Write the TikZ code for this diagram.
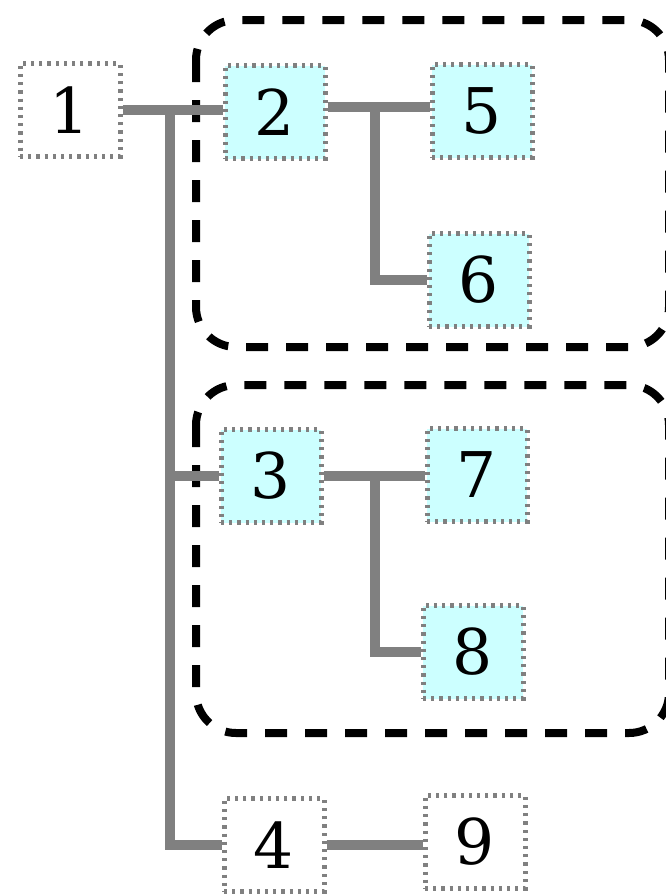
\documentclass[tikz,border=0pt]{standalone}
\usepackage{fontspec}
\setmainfont{DejaVu Serif}
\usepackage{tikz}
\usetikzlibrary{positioning,backgrounds}
\definecolor{cellfill}{RGB}{204,255,255}
\definecolor{linkgray}{RGB}{128,128,128}

\begin{document}
\begin{tikzpicture}[x=1pt, y=-1pt,
  every node/.style={font=\fontsize{63}{63}\selectfont},
  cell/.style={draw=linkgray, line width=5pt, dash pattern=on 3.2pt off 5pt,
               minimum width=100pt, minimum height=93pt, inner sep=0pt},
  inner/.style={cell, fill=cellfill},
  outer/.style={cell, fill=white},
  link/.style={draw=linkgray, line width=10pt},
  group/.style={draw=black, line width=8pt, dash pattern=on 22pt off 18pt, rounded corners=40pt},
]
\useasboundingbox (0,0) rectangle (666,895);
% nodes
\node[outer] (n1) at (70,110)  {1};
\node[inner] (n2) at (275,112) {2};
\node[inner] (n5) at (482,111) {5};
\node[inner] (n6) at (479,280) {6};
\node[inner] (n3) at (271,476) {3};
\node[inner] (n7) at (477,475) {7};
\node[inner] (n8) at (473,652) {8};
\node[outer] (n4) at (274,845) {4};
\node[outer] (n9) at (475,842) {9};
% groups and links behind the nodes
\coordinate (b1) at (170,110);
\coordinate (b2) at (375,107);
\coordinate (b3) at (375,476);
\begin{scope}[on background layer]
\draw[group] (196,20) rectangle (669,347);
\draw[group] (196,385) rectangle (669,733);
\draw[link] (n1.east) -- (n2.west |- n1.east);
\draw[link] (b1) |- (n3.west);
\draw[link] (b1) |- (n4.west);
\draw[link] (n2.east |- b2) -- (n5.west |- b2);
\draw[link] (b2) |- (n6.west);
\draw[link] (n3.east) -- (n7.west |- n3.east);
\draw[link] (b3) |- (n8.west);
\draw[link] (n4.east) -- (n9.west |- n4.east);
\end{scope}
\end{tikzpicture}
\end{document}
